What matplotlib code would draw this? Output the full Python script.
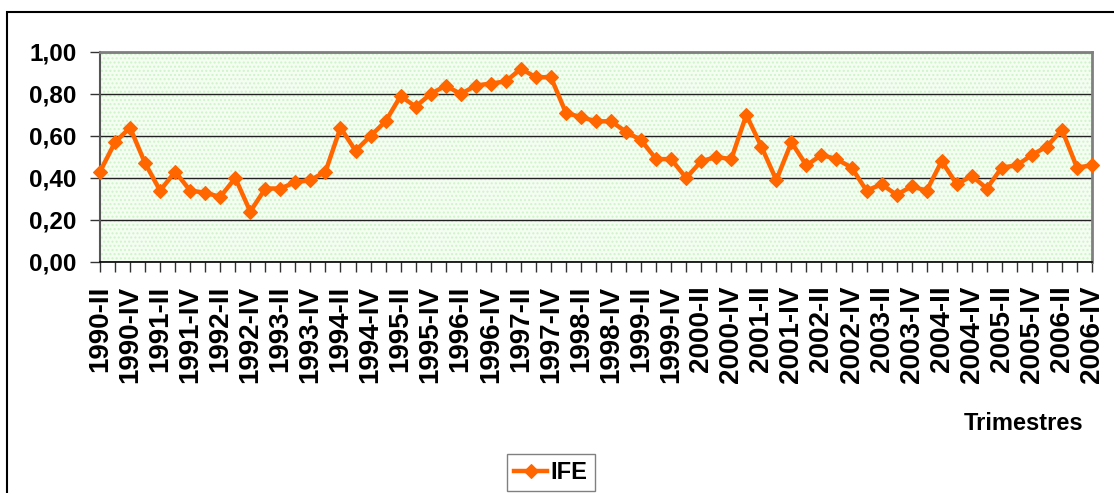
import matplotlib
matplotlib.use("Agg")
import matplotlib.pyplot as plt
from matplotlib.patches import Rectangle

# quarterly IFE index, 1990-II .. 2006-IV
years = list(range(1990, 2007))
quarters = ["I", "II", "III", "IV"]
trimestres = [f"{y}-{q}" for y in years for q in quarters][1:]

ife = [0.43, 0.57, 0.64,
       0.47, 0.34, 0.43, 0.34,
       0.33, 0.31, 0.40, 0.24,
       0.35, 0.35, 0.38, 0.39,
       0.43, 0.64, 0.53, 0.60,
       0.67, 0.79, 0.74, 0.80,
       0.84, 0.80, 0.84, 0.85,
       0.86, 0.92, 0.88, 0.88,
       0.71, 0.69, 0.67, 0.67,
       0.62, 0.58, 0.49, 0.49,
       0.40, 0.48, 0.50, 0.49,
       0.70, 0.55, 0.39, 0.57,
       0.46, 0.51, 0.49, 0.45,
       0.34, 0.37, 0.32, 0.36,
       0.34, 0.48, 0.37, 0.41,
       0.35, 0.45, 0.46, 0.51,
       0.55, 0.63, 0.45, 0.46]

y_ticks = [0.0, 0.2, 0.4, 0.6, 0.8, 1.0]

plt.rcParams["font.family"] = ["Liberation Sans", "DejaVu Sans"]
plt.rcParams["font.weight"] = "bold"

W, H = 1114, 493
fig = plt.figure(figsize=(W / 100, H / 100), dpi=100)
ax = fig.add_axes([100 / W, 1 - 262 / H, 992 / W, 210 / H])

# dotted light green plot background
ax.set_facecolor("#f5fdf3")
ax.add_patch(Rectangle((0, 0), 1, 1, transform=ax.transAxes, facecolor="none",
                       edgecolor="#cdf5c8", hatch="....", linewidth=0, zorder=0))

x = list(range(len(ife)))
ax.plot(x, ife, color="#ff6600", linewidth=3.2, marker="D", markersize=7.5,
        markeredgewidth=0.8, markeredgecolor="#ff6600", label="IFE", zorder=3,
        clip_on=False)

ax.set_xlim(0, len(ife) - 1)
ax.set_ylim(0, 1)
ax.set_yticks(y_ticks)
ax.set_yticklabels([f"{v:.2f}".replace(".", ",") for v in y_ticks], fontsize=17.5,
                   fontweight="bold")
ax.set_xticks(x)
ax.set_xticklabels([lab if i % 2 == 0 else "" for i, lab in enumerate(trimestres)],
                   rotation=90, fontsize=20, fontweight="bold")
ax.tick_params(axis="both", direction="out", length=7, width=1, color="#333333", pad=10)

ax.grid(axis="y", color="#222222", linewidth=1)
ax.set_axisbelow(True)
for side in ["top", "right"]:
    ax.spines[side].set_color("#808080")
    ax.spines[side].set_linewidth(2)
ax.spines["left"].set_color("#555555")
ax.spines["left"].set_linewidth(1.5)
ax.spines["bottom"].set_color("#000000")
ax.spines["bottom"].set_linewidth(1.2)

fig.text(1083 / W, 1 - 423 / H, "Trimestres", ha="right", va="center",
         fontsize=17, fontweight="bold")

leg = fig.legend(loc="upper left", bbox_to_anchor=(507 / W, 1 - 454 / H),
                 fancybox=False, edgecolor="#808080", framealpha=1,
                 prop={"size": 17, "weight": "bold"}, handlelength=1.4,
                 handletextpad=0.15, borderpad=0.3, borderaxespad=0)
leg.get_frame().set_linewidth(1)

# chart border
fig.patches.append(Rectangle((7 / W, -0.1), 1.1, 1.1 - 12 / H, transform=fig.transFigure,
                             facecolor="none", edgecolor="black", linewidth=1.5))

fig.savefig("out.png", dpi=100)
